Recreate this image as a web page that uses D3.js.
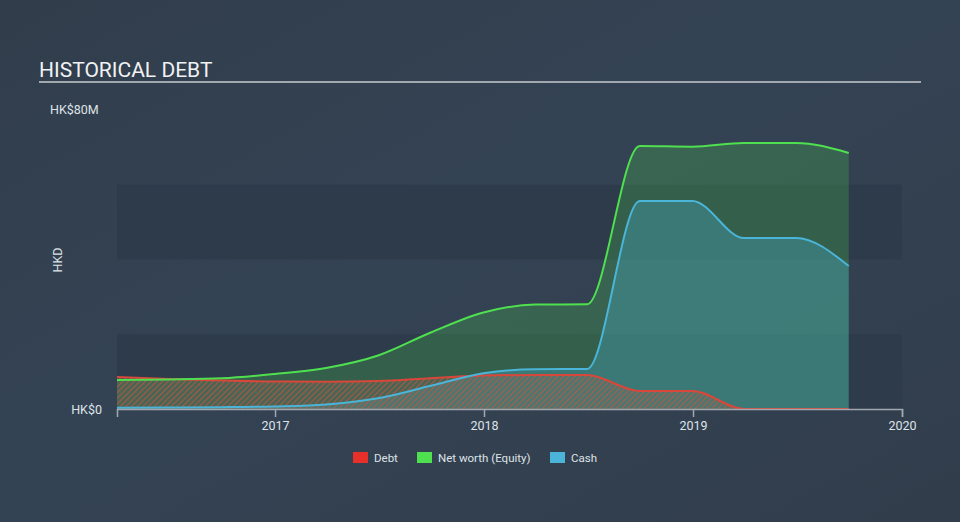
<!DOCTYPE html>
<html>
<head>
<meta charset="utf-8">
<script src="https://cdn.jsdelivr.net/npm/d3@7"></script>
<style>
  html, body { margin: 0; padding: 0; background: #333f4f; }
  svg { display: block; font-family: Roboto, "Open Sans", sans-serif; }
</style>
</head>
<body>
<svg id="chart" width="960" height="522"></svg>
<script>
// ---- data (HK$ millions, quarterly) ----
const dates = ["2016-03-31","2016-06-30","2016-09-30","2016-12-31",
               "2017-03-31","2017-06-30","2017-09-30","2017-12-31",
               "2018-03-31","2018-06-30","2018-09-30","2018-12-31",
               "2019-03-31","2019-06-30","2019-09-30"];
const debt   = [8.56, 8.03, 7.63, 7.36, 7.30, 7.49, 8.24, 8.96, 9.10, 9.10, 4.82, 4.82, 0.0, 0.0, 0.0];
const equity = [7.76, 7.89, 8.21, 9.36, 10.97, 14.31, 20.47, 25.82, 27.93, 28.01, 70.37, 70.2, 71.2, 71.2, 68.5];
const cash   = [0.35, 0.40, 0.48, 0.67, 1.20, 2.86, 6.20, 9.55, 10.65, 10.70, 55.65, 55.65, 45.75, 45.75, 38.26];
const xTickYears = [2017, 2018, 2019, 2020];
const yLabels = ["HK$0", "HK$80M"];
const legendItems = ["Debt", "Net worth (Equity)", "Cash"];
const seriesColors = ["#e8302a", "#4fe04f", "#4ab5d8"];

const parse = d3.timeParse("%Y-%m-%d");
const T = dates.map(parse);

const svg = d3.select("#chart");

// background
const defs = svg.append("defs");
const bg = defs.append("linearGradient").attr("id","bg").attr("x1","0").attr("y1","0").attr("x2","1").attr("y2","1");
bg.append("stop").attr("offset","0%").attr("stop-color","#313d4b");
bg.append("stop").attr("offset","45%").attr("stop-color","#344354");
bg.append("stop").attr("offset","100%").attr("stop-color","#313d4b");
svg.append("rect").attr("width",960).attr("height",522).attr("fill","url(#bg)");

// hatch pattern
const pat = defs.append("pattern").attr("id","hatch").attr("patternUnits","userSpaceOnUse")
  .attr("width",4).attr("height",4).attr("patternTransform","rotate(45)");
pat.append("rect").attr("width",4).attr("height",4).attr("fill","rgba(120,110,100,0.35)");
pat.append("line").attr("x1",0).attr("y1",0).attr("x2",0).attr("y2",4)
  .attr("stroke","#c4573d").attr("stroke-width",2).attr("stroke-opacity",0.75);

const x = d3.scaleTime().domain([parse("2016-03-31"), parse("2020-01-01")]).range([117, 902]);
const y = d3.scaleLinear().domain([0, 80]).range([409, 110]);

// bands
svg.append("rect").attr("x",117).attr("width",785).attr("y",y(60)).attr("height",y(40)-y(60)).attr("fill","#2e3b4b");
svg.append("rect").attr("x",117).attr("width",785).attr("y",y(20)).attr("height",y(0)-y(20)).attr("fill","#2e3b4b");

// title
svg.append("text").attr("x",39).attr("y",77).attr("fill","#f0f2f4").attr("font-size",21)
  .text("HISTORICAL DEBT");
svg.append("rect").attr("x",39).attr("y",81).attr("width",882).attr("height",2).attr("fill","#a1a8b0");

// y labels
svg.append("text").attr("x",50).attr("y",y(80)+4).attr("fill","#dfe3e8").attr("font-size",12.5).text(yLabels[1]);
svg.append("text").attr("x",102).attr("y",y(0)+5).attr("text-anchor","end").attr("fill","#dfe3e8").attr("font-size",12.5).text(yLabels[0]);
svg.append("text").attr("transform","translate(62,260) rotate(-90)").attr("text-anchor","middle")
  .attr("fill","#dfe3e8").attr("font-size",12.5).text("HKD");

const curve = d3.curveMonotoneX;
const area = vals => d3.area().x((d,i)=>x(T[i])).y0(y(0)).y1(d=>y(d)).curve(curve)(vals);
const line = vals => d3.line().x((d,i)=>x(T[i])).y(d=>y(d)).curve(curve)(vals);

svg.append("path").attr("d", area(equity)).attr("fill","#4ce04c").attr("fill-opacity",0.22);
svg.append("path").attr("d", area(cash)).attr("fill","#4ab5d8").attr("fill-opacity",0.3);
svg.append("path").attr("d", area(debt)).attr("fill","url(#hatch)");

svg.append("path").attr("d", line(debt)).attr("fill","none").attr("stroke","#d9473a").attr("stroke-width",2);
svg.append("path").attr("d", line(equity)).attr("fill","none").attr("stroke",seriesColors[1]).attr("stroke-width",2);
svg.append("path").attr("d", line(cash)).attr("fill","none").attr("stroke",seriesColors[2]).attr("stroke-width",2);

// x axis
const xAxis = d3.axisBottom(x)
  .tickValues(xTickYears.map(yr => new Date(yr,0,1)))
  .tickFormat(d3.timeFormat("%Y")).tickSizeOuter(0).tickSize(8).tickPadding(4);
const gx = svg.append("g").attr("transform",`translate(0,${y(0)})`).call(xAxis);
gx.select(".domain").attr("stroke","#a1a8b0").attr("stroke-width",1.5);
gx.selectAll(".tick line").attr("stroke","#a1a8b0").attr("stroke-width",1.5);
gx.selectAll(".tick text").attr("fill","#dfe3e8").attr("font-size",12.5).attr("font-family","Roboto, sans-serif");

// legend
const lg = svg.append("g").attr("transform","translate(353,452)");
const offs = [0, 64, 197];
legendItems.forEach((name,i) => {
  const g = lg.append("g").attr("transform",`translate(${offs[i]},0)`);
  g.append("rect").attr("width",15).attr("height",11).attr("fill",seriesColors[i]);
  g.append("text").attr("x",21).attr("y",10).attr("fill","#dfe3e8").attr("font-size",11.5).text(name);
});
</script>
</body>
</html>
